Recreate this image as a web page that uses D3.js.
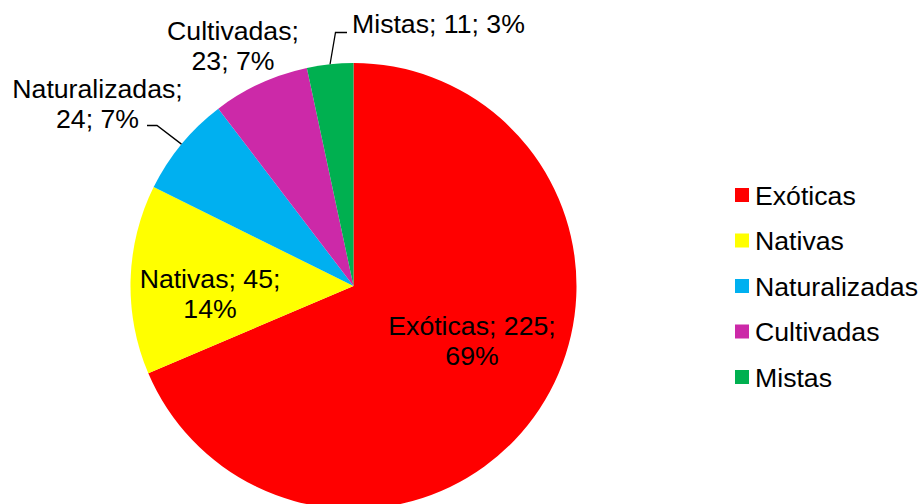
<!DOCTYPE html>
<html>
<head>
<meta charset="utf-8">
<script src="https://cdn.jsdelivr.net/npm/d3@7"></script>
<style>
  html, body { margin: 0; padding: 0; background: #fff; }
  svg { display: block; }
  text { font-family: "Liberation Sans", Arial, sans-serif; fill: #000; }
</style>
</head>
<body>
<svg id="chart" width="919" height="504"></svg>
<script>
// Categories and counts
const categories = ["Exóticas", "Nativas", "Naturalizadas", "Cultivadas", "Mistas"];
const counts = [225, 45, 24, 23, 11];
const percentLabels = ["69%", "14%", "7%", "7%", "3%"];
const colors = ["#FF0000", "#FFFF00", "#00B0F0", "#CC29A8", "#00B050"];

// Label layout: offsets from the pie centre for the first text line,
// and where the label wraps ("value" = after the count, "name" = after the name)
const labelLayout = [
  { dx: 118.5, dy: 49, anchor: "middle", wrap: "value" },
  { dx: -143.5, dy: 2, anchor: "middle", wrap: "value" },
  { dx: -256, dy: -188, anchor: "middle", wrap: "name" },
  { dx: -120.5, dy: -246, anchor: "middle", wrap: "name" },
  { dx: -1.5, dy: -253, anchor: "start", wrap: null }
];
// Leader lines: start and elbow relative to the pie centre, ending at the slice's outer midpoint
const leaders = [
  null, null,
  { start: [-206.5, -160.5], elbow: [-196.5, -160.5] },
  null,
  { start: [-6.5, -253.5], elbow: [-18, -253.5] }
];

const cx = 353.5, cy = 286, radius = 223;
const fontSize = 26.67, lineGap = 29.5;

const svg = d3.select("#chart");
const g = svg.append("g").attr("transform", `translate(${cx},${cy})`);

const data = categories.map((c, i) => ({ name: c, value: counts[i], pct: percentLabels[i], color: colors[i], i }));

const pie = d3.pie().sort(null).value(d => d.value);
const arc = d3.arc().innerRadius(0).outerRadius(radius);
const arcs = pie(data);

g.selectAll("path.slice")
  .data(arcs)
  .join("path")
  .attr("class", "slice")
  .attr("d", arc)
  .attr("fill", d => d.data.color);

// Leader lines
arcs.forEach((a, i) => {
  const L = leaders[i];
  if (!L) return;
  const mid = (a.startAngle + a.endAngle) / 2;
  const end = [Math.sin(mid) * radius, -Math.cos(mid) * radius];
  g.append("path")
    .attr("d", d3.line()([L.start, L.elbow, end]))
    .attr("fill", "none")
    .attr("stroke", "#000")
    .attr("stroke-width", 1.3);
});

// Data labels: "name; value; pct", wrapped as laid out
arcs.forEach((a, i) => {
  const d = a.data, lay = labelLayout[i];
  const t = g.append("text")
    .attr("x", lay.dx)
    .attr("y", lay.dy)
    .attr("text-anchor", lay.anchor)
    .attr("font-size", fontSize);
  let lines;
  if (lay.wrap === "value") lines = [`${d.name}; ${d.value};`, d.pct];
  else if (lay.wrap === "name") lines = [`${d.name};`, `${d.value}; ${d.pct}`];
  else lines = [`${d.name}; ${d.value}; ${d.pct}`];
  lines.forEach((s, k) => {
    t.append("tspan").attr("x", lay.dx).attr("dy", k === 0 ? 0 : lineGap).text(s);
  });
});

// Legend
const legend = svg.append("g").attr("transform", "translate(735,195)");
const rowStep = 45.5;
const rows = legend.selectAll("g.row")
  .data(data)
  .join("g")
  .attr("class", "row")
  .attr("transform", (d, i) => `translate(0,${i * rowStep})`);
rows.append("rect")
  .attr("x", 0).attr("y", -7)
  .attr("width", 14).attr("height", 14)
  .attr("fill", d => d.color);
rows.append("text")
  .attr("x", 20).attr("y", 9.5)
  .attr("font-size", fontSize)
  .text(d => d.name);
</script>
</body>
</html>
